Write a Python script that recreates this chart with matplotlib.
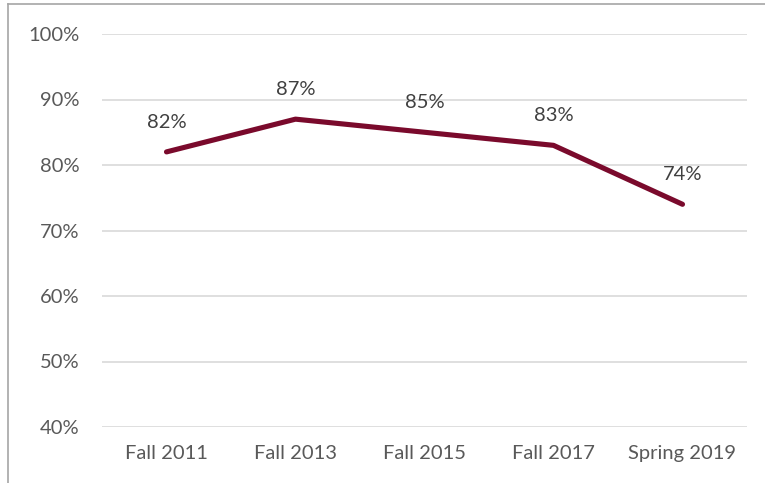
import matplotlib
matplotlib.use("Agg")
import matplotlib.pyplot as plt
from matplotlib.lines import Line2D

categories = ["Fall 2011", "Fall 2013", "Fall 2015", "Fall 2017", "Spring 2019"]
values = [82, 87, 85, 83, 74]
yticks = [40, 50, 60, 70, 80, 90, 100]

W, H = 765, 483
fig = plt.figure(figsize=(W/100, H/100), dpi=100)
plt.rcParams['font.family'] = ['Lato', 'DejaVu Sans']

ax = fig.add_axes([102/W, (H-427)/H, (747-102)/W, (427-34)/H])
x = list(range(len(categories)))
ax.plot(x, values, color="#7A0A2C", lw=3.7, solid_capstyle="round", zorder=3)
for xi, v in zip(x, values):
    ax.annotate(f"{v}%", (xi, v), xytext=(0, 21.5), textcoords="offset points",
                ha="center", va="center", fontsize=14.5, color="#404040")

ax.set_ylim(40, 100)
ax.set_xlim(-0.5, 4.5)
ax.set_yticks(yticks)
ax.set_yticklabels([f"{t}%" for t in yticks])
ax.set_xticks(x)
ax.set_xticklabels(categories)
ax.tick_params(axis="both", length=0, labelsize=14.5, labelcolor="#595959")
ax.tick_params(axis="y", pad=16)
ax.tick_params(axis="x", pad=13)
ax.grid(axis="y", color="#D9D9D9", lw=1.2)
ax.set_axisbelow(True)
for s in ax.spines.values():
    s.set_visible(False)

# chart border (cropped)
fig.add_artist(Line2D([8/W, 8/W], [0, 1-4/H], transform=fig.transFigure, color="#A6A6A6", lw=1.2))
fig.add_artist(Line2D([8/W, 1], [1-4/H, 1-4/H], transform=fig.transFigure, color="#A6A6A6", lw=1.2))

fig.savefig("out.png", dpi=100)
